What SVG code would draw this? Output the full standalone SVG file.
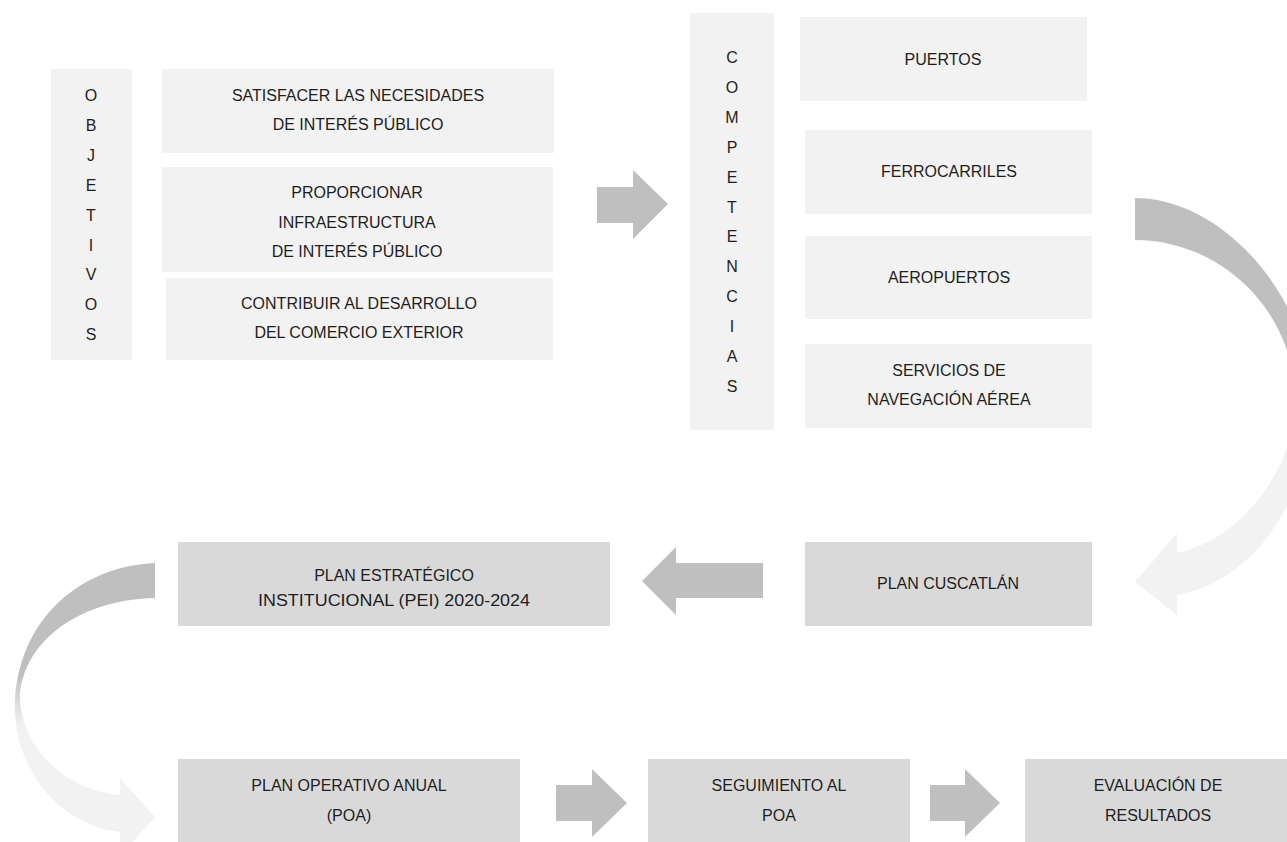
<svg xmlns="http://www.w3.org/2000/svg" width="1287" height="842" viewBox="0 0 1287 842">
<style>
.l{fill:#f2f2f2}
.d{fill:#d9d9d9}
.a{fill:#bfbfbf}
text{font-family:"Liberation Sans",Arial,sans-serif;font-size:16px;fill:#1e1e1e;text-anchor:middle}
</style>
<defs>
<linearGradient id="gR" gradientUnits="userSpaceOnUse" x1="0" y1="360" x2="0" y2="460">
<stop offset="0" stop-color="#bfbfbf"/><stop offset="1" stop-color="#f2f2f2"/>
</linearGradient>
<linearGradient id="gL" gradientUnits="userSpaceOnUse" x1="0" y1="675" x2="0" y2="725">
<stop offset="0" stop-color="#bfbfbf"/><stop offset="1" stop-color="#f2f2f2"/>
</linearGradient>
</defs>
<rect width="1287" height="842" fill="#fff"/>
<g id="connectors">
<polygon class="a" points="597,187 633,187 633,170 668,204 633,239 633,223 597,223"/>
<polygon class="a" points="763,563 676,563 676,547 642,581 676,615 676,598 763,598"/>
<polygon class="a" points="556,785 592,785 592,769 627,803 592,837 592,821 556,821"/>
<polygon class="a" points="930,785 965,785 965,769 1000,803 965,837 965,821 930,821"/>
<path fill="url(#gR)" d="M1135,198 C1225,198 1310,300 1312,400 C1312,490 1260,580 1177,595 L1177,615 L1135,582 L1177,533 L1177,553 C1240,540 1295,470 1295,400 C1295,310 1220,240 1135,240 Z"/>
<path fill="url(#gL)" d="M155,563 C80,566 18,620 15,703 C13,770 60,825 120,832 L120,856 L155,817 L120,778 L120,795 C65,790 25,750 20,703 C18,650 70,600 155,598 Z"/>
</g>
<g id="objetivos">
<rect class="l" x="51" y="69" width="81" height="291"/>
<text x="91" y="101">O</text><text x="91" y="131">B</text><text x="91" y="161">J</text><text x="91" y="191">E</text><text x="91" y="221">T</text><text x="91" y="251">I</text><text x="91" y="280">V</text><text x="91" y="310">O</text><text x="91" y="340">S</text>
</g>
<g id="satisfacer">
<rect class="l" x="162" y="69" width="392" height="84"/>
<text x="358" y="101">SATISFACER LAS NECESIDADES</text>
<text x="358" y="130">DE INTERÉS PÚBLICO</text>
</g>
<g id="proporcionar">
<rect class="l" x="162" y="167" width="391" height="105"/>
<text x="357" y="198">PROPORCIONAR</text>
<text x="357" y="228">INFRAESTRUCTURA</text>
<text x="357" y="257">DE INTERÉS PÚBLICO</text>
</g>
<g id="contribuir">
<rect class="l" x="166" y="278" width="387" height="82"/>
<text x="359" y="309">CONTRIBUIR AL DESARROLLO</text>
<text x="359" y="338">DEL COMERCIO EXTERIOR</text>
</g>
<g id="competencias">
<rect class="l" x="690" y="13" width="84" height="417"/>
<text x="732" y="63">C</text><text x="732" y="93">O</text><text x="732" y="123">M</text><text x="732" y="153">P</text><text x="732" y="183">E</text><text x="732" y="213">T</text><text x="732" y="242">E</text><text x="732" y="272">N</text><text x="732" y="302">C</text><text x="732" y="332">I</text><text x="732" y="362">A</text><text x="732" y="392">S</text>
</g>
<g id="puertos">
<rect class="l" x="800" y="17" width="287" height="84"/>
<text x="943" y="65">PUERTOS</text>
</g>
<g id="ferrocarriles">
<rect class="l" x="805" y="130" width="287" height="84"/>
<text x="949" y="177">FERROCARRILES</text>
</g>
<g id="aeropuertos">
<rect class="l" x="805" y="236" width="287" height="83"/>
<text x="949" y="283">AEROPUERTOS</text>
</g>
<g id="servicios">
<rect class="l" x="805" y="344" width="287" height="84"/>
<text x="949" y="376">SERVICIOS DE</text>
<text x="949" y="405">NAVEGACIÓN AÉREA</text>
</g>
<g id="cuscatlan">
<rect class="d" x="805" y="542" width="287" height="84"/>
<text x="948" y="589">PLAN CUSCATLÁN</text>
</g>
<g id="pei">
<rect class="d" x="178" y="542" width="432" height="84"/>
<text x="394" y="581">PLAN ESTRATÉGICO</text>
<text x="394" y="606" textLength="272" lengthAdjust="spacingAndGlyphs">INSTITUCIONAL (PEI) 2020-2024</text>
</g>
<g id="poa">
<rect class="d" x="178" y="759" width="342" height="83"/>
<text x="349" y="791">PLAN OPERATIVO ANUAL</text>
<text x="349" y="821">(POA)</text>
</g>
<g id="seguimiento">
<rect class="d" x="648" y="759" width="262" height="83"/>
<text x="779" y="791">SEGUIMIENTO AL</text>
<text x="779" y="821">POA</text>
</g>
<g id="evaluacion">
<rect class="d" x="1025" y="759" width="262" height="83"/>
<text x="1158" y="791">EVALUACIÓN DE</text>
<text x="1158" y="821">RESULTADOS</text>
</g>
</svg>
